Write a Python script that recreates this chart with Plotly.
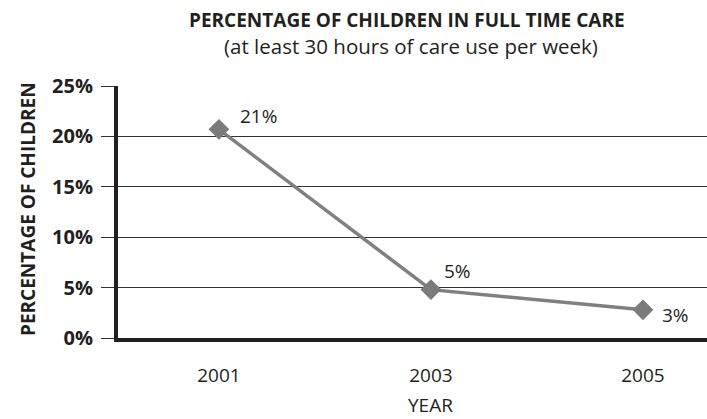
import plotly.graph_objects as go

years = ["2001", "2003", "2005"]
values = [20.7, 4.8, 2.8]
labels = ["21%", "5%", "3%"]
label_dx = [40, 27, 33]
label_dy = [13, 19, -5]
y_ticks = [0, 5, 10, 15, 20, 25]
y_ticklabels = ["0%", "5%", "10%", "15%", "20%", "25%"]
title_text = "PERCENTAGE OF CHILDREN IN FULL TIME CARE"
subtitle_text = "(at least 30 hours of care use per week)"
x_title = "YEAR"
y_title = "PERCENTAGE OF CHILDREN"

FONT = "Open Sans"
INK = "#231f20"
W, H = 707, 419
ML, MR, MT, MB = 118, 0, 86, 81
PH = H - MT - MB


def py(px_from_top):
    return 1 - (px_from_top - MT) / PH


fig = go.Figure()
fig.add_trace(go.Scatter(
    x=years, y=values,
    mode="lines+markers",
    line=dict(color="#808080", width=3.5),
    marker=dict(symbol="diamond", size=16, color="#7b7b7b"),
    cliponaxis=False,
    showlegend=False,
    hoverinfo="skip",
))

for i, (yv, t, dx, dy) in enumerate(zip(values, labels, label_dx, label_dy)):
    fig.add_annotation(x=i, y=yv, text=t, showarrow=False,
                       xshift=dx, yshift=dy, xanchor="center", yanchor="middle",
                       font=dict(family=FONT, size=19, color=INK))

fig.add_annotation(xref="paper", yref="paper", x=(407 - ML) / (W - ML), y=py(20),
                   text="<b>" + title_text + "</b>", showarrow=False,
                   xanchor="center", yanchor="middle",
                   font=dict(family=FONT, size=19, color=INK))
fig.add_annotation(xref="paper", yref="paper", x=(411 - ML) / (W - ML), y=py(46),
                   text=subtitle_text, showarrow=False,
                   xanchor="center", yanchor="middle",
                   font=dict(family=FONT, size=20.5, color=INK))
fig.add_annotation(xref="paper", yref="paper", x=(430 - ML) / (W - ML), y=py(405),
                   text=x_title, showarrow=False,
                   xanchor="center", yanchor="middle",
                   font=dict(family=FONT, size=19, color=INK))
fig.add_annotation(xref="paper", yref="paper", x=0, xshift=28 - ML, y=py(209),
                   text="<b>" + y_title + "</b>", showarrow=False, textangle=-90,
                   xanchor="center", yanchor="middle",
                   font=dict(family=FONT, size=19, color=INK))

fig.update_layout(
    width=W, height=H,
    margin=dict(l=ML, r=MR, t=MT, b=MB),
    paper_bgcolor="white", plot_bgcolor="white",
)
fig.update_xaxes(
    type="category", range=[-0.476, 2.302],
    showline=True, linewidth=4, linecolor=INK,
    showgrid=False, ticks="", ticklabelstandoff=17,
    tickfont=dict(family=FONT, size=19, color=INK),
)
fig.update_yaxes(
    range=[0, 25], tickvals=y_ticks, ticktext=y_ticklabels,
    showline=True, linewidth=4, linecolor=INK,
    showgrid=True, gridcolor="#333333", gridwidth=1,
    ticks="outside", ticklen=13, tickcolor="#333333", tickwidth=1,
    ticklabelstandoff=4,
    tickfont=dict(family=FONT, size=20, color=INK, weight="bold"),
    zeroline=False,
)

fig.write_html("out.html")
